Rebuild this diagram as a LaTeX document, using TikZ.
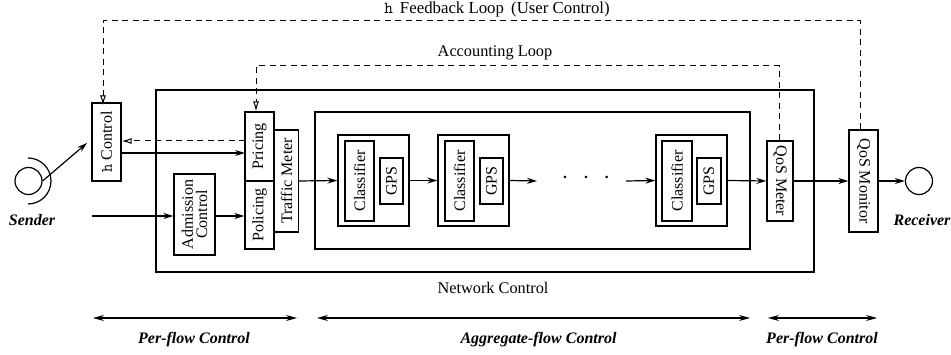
\documentclass[tikz,border=0pt]{standalone}
\usepackage{fontspec}
\setmainfont{Liberation Serif}
\usetikzlibrary{arrows.meta, positioning}
\tikzstyle{bloque} = [draw, line width=1.3pt, rectangle, inner sep=0pt, fill=white]
\tikzstyle{marco} = [draw, line width=1.3pt, rectangle, inner sep=0pt]
\tikzstyle{flujo} = [line width=1.2pt, -{Stealth[length=10pt,width=6pt]}]
\tikzstyle{lazo} = [line width=1pt, dash pattern=on 6pt off 4.5pt, -{Latex[open,length=10pt,width=6pt]}]
\tikzstyle{ambito} = [line width=1.2pt, {Stealth[length=11pt,width=6pt]}-{Stealth[length=11pt,width=6pt]}]
\tikzstyle{etiqueta} = [font=\bfseries\itshape\fontsize{16}{16}\selectfont, inner sep=0pt]
\tikzstyle{rotulo} = [font=\fontsize{16.3}{16}\selectfont, inner sep=0pt]
\newcommand{\arriba}[1]{\rotatebox{90}{#1}}
\newcommand{\abajo}[1]{\rotatebox{-90}{#1}}
\begin{document}
\begin{tikzpicture}[x=1pt, y=-1pt, font=\fontsize{16}{16}\selectfont]
	\useasboundingbox (0,0) rectangle (951,355);
	% marcos
	\node [marco, minimum width=658pt, minimum height=182pt] (red) at (485,181) {};
	\node [marco, minimum width=435pt, minimum height=137pt] (agregado) at (532.5,180.5) {};
	% control de acceso
	\node [bloque, minimum width=29pt, minimum height=78pt] (hctrl) at (106.5,142) {\arriba{\texttt{h} Control}};
	\node [bloque, minimum width=41pt, minimum height=81pt] (admision) at (194.5,214.5) {\arriba{\shortstack{Admission\\Control}}};
	\node [bloque, minimum width=29pt, minimum height=69pt] (pricing) at (259.5,146.5) {\arriba{Pricing}};
	\node [bloque, minimum width=29pt, minimum height=68pt] (policing) at (259.5,215) {\arriba{Policing}};
	\node [bloque, minimum width=24pt, minimum height=102pt] (meter) at (286.5,181) {\arriba{Traffic Meter}};
	% clasificadores
	\node [marco, minimum width=71pt, minimum height=91pt] (grupoa) at (373.5,180.5) {};
	\node [bloque, minimum width=29pt, minimum height=80pt] (clasa) at (359.5,181) {\arriba{Classifier}};
	\node [bloque, minimum width=23pt, minimum height=46pt] (gpsa) at (391.5,181) {\arriba{GPS}};
	\node [marco, minimum width=71pt, minimum height=91pt] (grupob) at (473.5,180.5) {};
	\node [bloque, minimum width=29pt, minimum height=80pt] (clasb) at (459.5,181) {\arriba{Classifier}};
	\node [bloque, minimum width=23pt, minimum height=46pt] (gpsb) at (491.5,181) {\arriba{GPS}};
	\node [marco, minimum width=71pt, minimum height=91pt] (grupoc) at (691.5,180.5) {};
	\node [bloque, minimum width=30pt, minimum height=80pt] (clasc) at (677,181) {\arriba{Classifier}};
	\node [bloque, minimum width=24pt, minimum height=46pt] (gpsc) at (709,181) {\arriba{GPS}};
	% medidores
	\node [bloque, minimum width=26pt, minimum height=80pt] (qosmeter) at (780,181) {\abajo{QoS Meter}};
	\node [bloque, minimum width=29pt, minimum height=102pt] (qosmon) at (863.5,181) {\abajo{QoS Monitor}};
	% extremos
	\node [draw, circle, line width=1.2pt, minimum size=27pt, inner sep=0pt] (sender) at (28.5,181) {};
	\node [draw, circle, line width=1.2pt, minimum size=27pt, inner sep=0pt] (receiver) at (919,181) {};
	\draw [line width=1.2pt] (28,158) arc (-90:90:23);
	\node [etiqueta] (lsender) at (32,220) {Sender};
	\node [etiqueta] (lreceiver) at (922,220) {Receiver};
	% puntos libres
	\coordinate (sflecha) at (87,143);
	\coordinate (entrada) at (92,216);
	\coordinate (fbk) at (245,141);
	\coordinate (precio) at (245,153);
	\coordinate (finb) at (537,181);
	\coordinate (inic) at (626,181);
	\coordinate (lazoa) at (103,21);
	\coordinate (lazob) at (860,21);
	\coordinate (lazoc) at (256,66);
	\coordinate (lazod) at (779,66);
	% conexiones
	\draw [flujo] (sender.east) -- (sflecha);
	\draw [flujo] (entrada) -- (admision.west |- entrada);
	\draw [flujo] (admision.east |- entrada) -- (policing.west |- entrada);
	\draw [flujo] (hctrl.east |- precio) -- (precio);
	\draw [flujo] (meter.east) -- (grupoa.west);
	\draw [flujo] (grupoa.east) -- (grupob.west);
	\draw [flujo] (grupob.east) -- (finb);
	\draw [flujo] (inic) -- (grupoc.west);
	\draw [flujo] (grupoc.east) -- (qosmeter.west);
	\draw [flujo] (qosmeter.east) -- (qosmon.west);
	\draw [flujo] (qosmon.east) -- (receiver.west);
	\node [inner sep=0pt, font=\bfseries\fontsize{15.5}{16}\selectfont] (puntos) at (586,177) {.\hspace{17pt}.\hspace{17pt}.};
	% lazos
	\draw [lazo] (fbk) -- (hctrl.east |- fbk);
	\draw [lazo] (lazob |- qosmon.north) -- (lazob) -- (lazoa) -- ([yshift=-3pt]lazoa |- hctrl.north);
	\draw [lazo] (lazod |- qosmeter.north) -- (lazod) -- (lazoc) -- (lazoc |- pricing.north);
	% rotulos
	\node [rotulo, font=\fontsize{16.8}{16}\selectfont, anchor=base] (lfeedback) at (497,13.5) {\texttt{h}\hspace{7pt}Feedback Loop\hspace{3pt} (User Control)};
	\node [rotulo] (laccounting) at (495,53) {Accounting Loop};
	\node [rotulo] (lred) at (493,288) {Network Control};
	% ambitos
	\coordinate (amba) at (93,318);
	\coordinate (ambb) at (297,318);
	\coordinate (ambc) at (317,318);
	\coordinate (ambd) at (750,318);
	\coordinate (ambe) at (768,318);
	\coordinate (ambf) at (877,318);
	\draw [ambito] (amba) -- (ambb);
	\draw [ambito] (ambc) -- (ambd);
	\draw [ambito] (ambe) -- (ambf);
	\node [etiqueta] (lpera) at (194,340) {Per-flow Control};
	\node [etiqueta] (lagre) at (538.5,340) {Aggregate-flow Control};
	\node [etiqueta] (lperb) at (822,340) {Per-flow Control};
\end{tikzpicture}
\end{document}
